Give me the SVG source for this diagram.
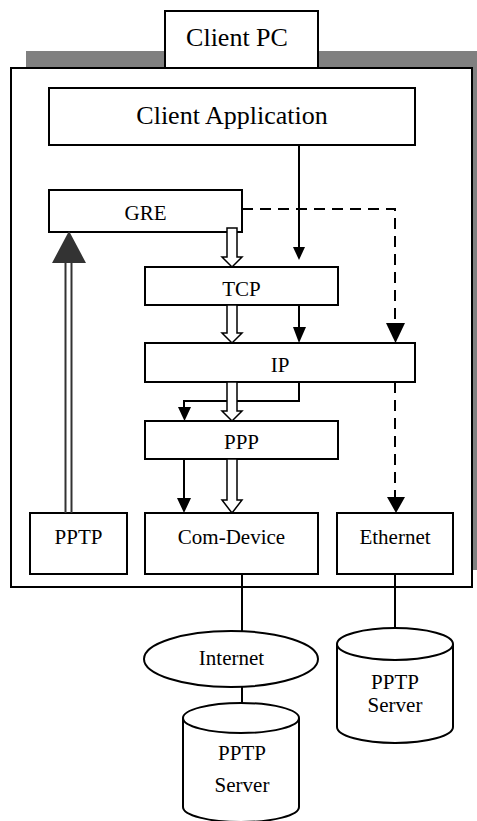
<svg xmlns="http://www.w3.org/2000/svg" width="477" height="821" viewBox="0 0 477 821">
<style>
.box{fill:#fff;stroke:#000;stroke-width:2}
.t{font-family:"Liberation Serif","Times New Roman",serif;font-size:21px;text-anchor:middle;fill:#000}
.big{font-size:26px}
.ln{fill:none;stroke:#000;stroke-width:2}
.dash{fill:none;stroke:#000;stroke-width:2;stroke-dasharray:11 7}
.blk{fill:#fff;stroke:#000;stroke-width:1.5}
.hd{fill:#000}
</style>
<g id="client-pc">
<rect x="26" y="51" width="451" height="519" fill="#808080"/>
<rect class="box" x="11" y="68" width="461" height="519"/>
<rect class="box" x="165" y="11" width="153" height="57"/>
<text class="t big" x="237" y="46">Client PC</text>
</g>
<g id="client-app"><rect class="box" x="49" y="88" width="366" height="57"/><text class="t big" x="232" y="124">Client Application</text></g>
<g id="gre"><rect class="box" x="49" y="190" width="193" height="42"/><text class="t" x="145.5" y="220">GRE</text></g>
<g id="tcp"><rect class="box" x="145" y="267" width="193" height="38"/><text class="t" x="241.5" y="296">TCP</text></g>
<g id="ip"><rect class="box" x="145" y="343" width="270" height="39"/><text class="t" x="280" y="372">IP</text></g>
<g id="ppp"><rect class="box" x="145" y="421" width="193" height="38"/><text class="t" x="241.5" y="449">PPP</text></g>
<g id="pptp"><rect class="box" x="30" y="513" width="97" height="61"/><text class="t" x="78.5" y="544">PPTP</text></g>
<g id="com-device"><rect class="box" x="145" y="513" width="173" height="61"/><text class="t" x="231.5" y="544">Com-Device</text></g>
<g id="ethernet"><rect class="box" x="337" y="513" width="116" height="61"/><text class="t" x="395" y="544">Ethernet</text></g>
<g id="internet"><ellipse class="box" cx="231" cy="659" rx="87" ry="28"/><text class="t" x="231.5" y="665">Internet</text></g>
<g id="pptp-server-1">
<path class="box" d="M183,718 A58,15 0 0 1 299,718 L299,807 A58,15 0 0 1 183,807 Z"/>
<path class="ln" d="M183,718 A58,15 0 0 0 299,718"/>
<text class="t" x="242" y="760">PPTP</text><text class="t" x="242" y="792">Server</text>
</g>
<g id="pptp-server-2">
<path class="box" d="M337,644 A58,16 0 0 1 453,644 L453,727 A58,16 0 0 1 337,727 Z"/>
<path class="ln" d="M337,644 A58,16 0 0 0 453,644"/>
<text class="t" x="395" y="689">PPTP</text><text class="t" x="395" y="712">Server</text>
</g>
<g id="connectors">
<line class="ln" x1="299" y1="145" x2="299" y2="248"/>
<polygon class="hd" points="293,247 305,247 299,260"/>
<line class="ln" x1="299" y1="305" x2="299" y2="328"/>
<polygon class="hd" points="293,327 306,327 299,343"/>
<polyline class="ln" points="299,382 299,401 184,401 184,408"/>
<polygon class="hd" points="178,407 191,407 184.5,421"/>
<line class="ln" x1="184" y1="459" x2="184" y2="499"/>
<polygon class="hd" points="177,498 191,498 184,513"/>
<polyline class="dash" points="242,209 395,209 395,324"/>
<polygon class="hd" points="386,323 405,323 395.5,343"/>
<line class="dash" x1="395" y1="382" x2="395" y2="498"/>
<polygon class="hd" points="387,497 405,497 396,513"/>
<polygon class="blk" points="227,228 237,228 237,257 242,257 232,267 222,257 227,257"/>
<polygon class="blk" points="227,305 237,305 237,333 242,333 232,343 222,333 227,333"/>
<polygon class="blk" points="227,382 237,382 237,411 242,411 232,421 222,411 227,411"/>
<polygon class="blk" points="227,459 237,459 237,500 242,500 232,513 222,500 227,500"/>
<line x1="65.5" y1="513" x2="65.5" y2="262" stroke="#333" stroke-width="2"/>
<line x1="71.5" y1="513" x2="71.5" y2="262" stroke="#333" stroke-width="2"/>
<polygon fill="#333" points="52,263 86,263 69,231"/>
<line class="ln" x1="242" y1="574" x2="242" y2="631"/>
<line class="ln" x1="242" y1="687" x2="242" y2="703"/>
<line class="ln" x1="395" y1="574" x2="395" y2="628"/>
</g>
</svg>
